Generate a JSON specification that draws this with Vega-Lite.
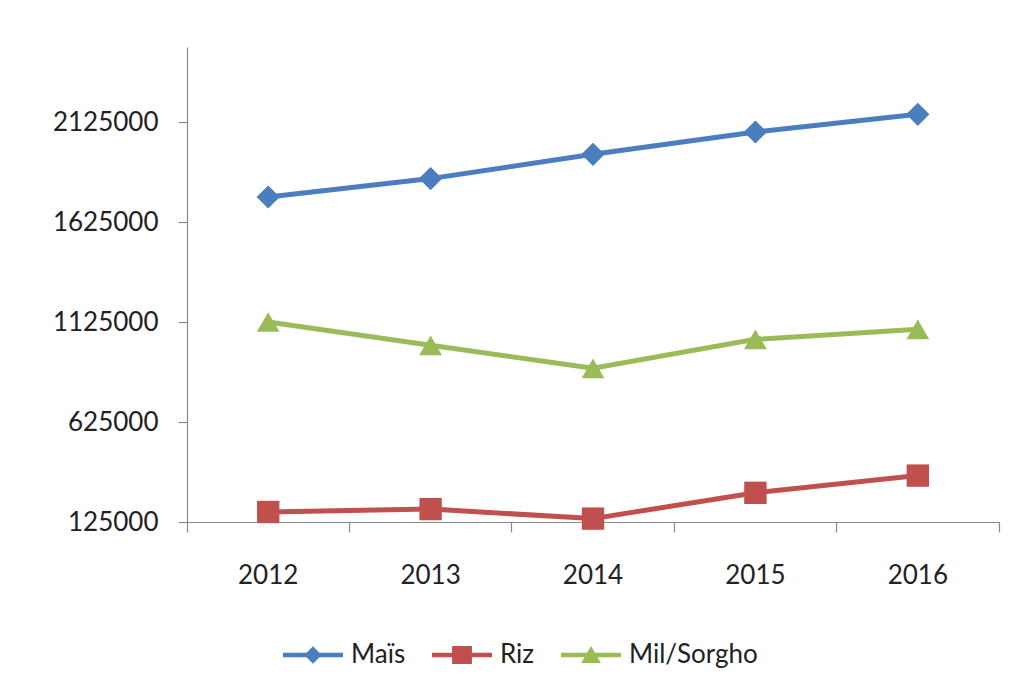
{
  "$schema": "https://vega.github.io/schema/vega-lite/v6.json",
  "width": 812,
  "height": 475,
  "autosize": {"type": "none"},
  "padding": {"left": 187, "top": 47, "right": 17, "bottom": 171},
  "background": "white",
  "config": {
    "view": {"stroke": null},
    "font": "Lato",
    "axis": {"labelFont": "Lato", "labelFontSize": 26, "labelColor": "#222222", "domainColor": "#8a8a8a", "tickColor": "#8a8a8a", "domainWidth": 1.2, "tickWidth": 1.2, "grid": false, "title": null},
    "legend": {"labelFont": "Lato", "labelFontSize": 26, "labelColor": "#222222"}
  },
  "data": {
    "values": [
      {"annee": "2012", "culture": "Maïs", "production": 1750000},
      {"annee": "2013", "culture": "Maïs", "production": 1842000},
      {"annee": "2014", "culture": "Maïs", "production": 1963500},
      {"annee": "2015", "culture": "Maïs", "production": 2075000},
      {"annee": "2016", "culture": "Maïs", "production": 2163500},
      {"annee": "2012", "culture": "Riz", "production": 175000},
      {"annee": "2013", "culture": "Riz", "production": 189500},
      {"annee": "2014", "culture": "Riz", "production": 142000},
      {"annee": "2015", "culture": "Riz", "production": 271000},
      {"annee": "2016", "culture": "Riz", "production": 357000},
      {"annee": "2012", "culture": "Mil/Sorgho", "production": 1125000},
      {"annee": "2013", "culture": "Mil/Sorgho", "production": 1008500},
      {"annee": "2014", "culture": "Mil/Sorgho", "production": 893500},
      {"annee": "2015", "culture": "Mil/Sorgho", "production": 1038500},
      {"annee": "2016", "culture": "Mil/Sorgho", "production": 1088500}
    ]
  },
  "encoding": {
    "x": {
      "field": "annee", "type": "ordinal",
      "scale": {"type": "band", "paddingInner": 0, "paddingOuter": 0},
      "axis": {"labelAngle": 0, "bandPosition": 1, "tickExtra": true, "tickSize": 10, "labelPadding": 30}
    },
    "y": {
      "field": "production", "type": "quantitative",
      "scale": {"domain": [125000, 2500000], "nice": false, "zero": false},
      "axis": {"values": [125000, 625000, 1125000, 1625000, 2125000], "format": "d", "tickSize": 9, "labelPadding": 20}
    },
    "color": {
      "field": "culture", "type": "nominal",
      "scale": {"domain": ["Maïs", "Riz", "Mil/Sorgho"], "range": ["#4A7EBF", "#C0504D", "#9BBB59"]},
      "legend": {
        "title": null,
        "orient": "none",
        "direction": "horizontal",
        "legendX": 96,
        "legendY": 578,
        "padding": 0,
        "symbolSize": 3600,
        "labelOffset": 8,
        "columnPadding": 26,
        "encode": {
          "symbols": {
            "update": {
              "shape": {"signal": "datum.value === 'Maïs' ? 'M-1,-0.075H1V0.075H-1Z M0,-0.29L0.29,0L0,0.29L-0.29,0Z' : datum.value === 'Riz' ? 'M-1,-0.075H1V0.075H-1Z M-0.33,-0.3H0.33V0.3H-0.33Z' : 'M-1,-0.075H1V0.075H-1Z M0,-0.3L0.33,0.27H-0.33Z'"},
              "fill": {"scale": "color", "field": "value"},
              "strokeWidth": {"value": 0},
              "opacity": {"value": 1}
            }
          }
        }
      }
    }
  },
  "layer": [
    {
      "mark": {"type": "line", "strokeWidth": 5}
    },
    {
      "transform": [{"filter": "datum.culture === 'Maïs'"}],
      "mark": {"type": "point", "shape": "diamond", "filled": true, "opacity": 1, "size": 540}
    },
    {
      "transform": [{"filter": "datum.culture === 'Riz'"}],
      "mark": {"type": "point", "shape": "square", "filled": true, "opacity": 1, "size": 500}
    },
    {
      "transform": [{"filter": "datum.culture === 'Mil/Sorgho'"}],
      "mark": {"type": "point", "shape": "triangle-up", "filled": true, "opacity": 1, "size": 520}
    }
  ]
}
